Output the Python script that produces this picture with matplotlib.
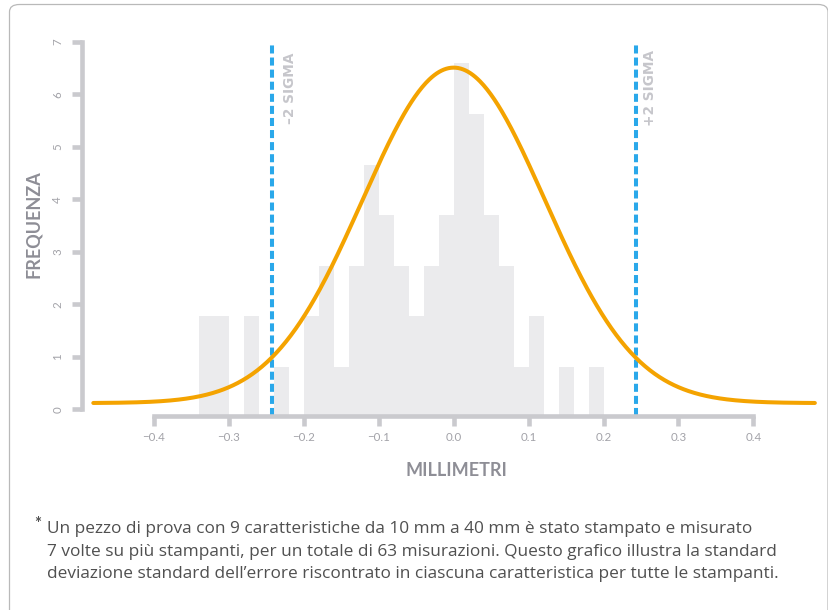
import numpy as np
import matplotlib
matplotlib.use("Agg")
import matplotlib.pyplot as plt
from matplotlib.patches import FancyBboxPatch

# ---------------- data ----------------
bin_start = -0.34
bin_width = 0.02
# frequency of each 0.02 mm bin (as read on the y axis)
bar_heights = [1.78, 1.78, 0, 1.78, 0, 0.81, 0, 1.78, 2.73, 0.81, 2.73, 4.66,
               3.70, 2.73, 1.78, 2.73, 3.70, 6.59, 5.63, 3.70, 2.73, 0.81,
               1.78, 0, 0.81, 0, 0.81]
# fitted normal curve parameters
fit_mean = 0.0
fit_sigma = 0.1215
fit_peak = 6.39
fit_base = 0.12
curve_range = (-0.481, 0.482)
sigma_lines = [-0.243, 0.243]
sigma_labels = ["\u20132 SIGMA", "+2 SIGMA"]
x_ticks = [-0.4, -0.3, -0.2, -0.1, 0.0, 0.1, 0.2, 0.3, 0.4]
x_ticklabels = ["\u22120.4", "\u22120.3", "\u22120.2", "\u22120.1", "0.0", "0.1", "0.2", "0.3", "0.4"]
y_ticks = [0, 1, 2, 3, 4, 5, 6, 7]
x_label = "MILLIMETRI"
y_label = "FREQUENZA"
footnote = ["Un pezzo di prova con 9 caratteristiche da 10 mm a 40 mm è stato stampato e misurato",
            "7 volte su più stampanti, per un totale di 63 misurazioni. Questo grafico illustra la standard",
            "deviazione standard dell\u2019errore riscontrato in ciascuna caratteristica per tutte le stampanti."]

# ---------------- style ----------------
plt.rcParams['font.family'] = ['Lato', 'DejaVu Sans']
W, H = 829, 610
fig = plt.figure(figsize=(W / 100, H / 100), dpi=100)

AX_GREY = "#cacace"
TICK_TXT = "#a2a2a8"
LABEL_GREY = "#8e8e96"
BAR_COL = "#ebebed"
ORANGE = "#f4a300"
BLUE = "#2aa8ea"

# axes placement (pixels)
xlim = (-0.50, 0.49)
ylim = (-0.3, 7.2)
px_per_x = 749.3
x0_px = 453.7
px_per_y = 52.5
y0_px = 409.4  # from top
left = (x0_px + xlim[0] * px_per_x) / W
right = (x0_px + xlim[1] * px_per_x) / W
bottom = (H - (y0_px - ylim[0] * px_per_y)) / H
top = (H - (y0_px - ylim[1] * px_per_y)) / H
ax = fig.add_axes([left, bottom, right - left, top - bottom])
ax.set_xlim(*xlim)
ax.set_ylim(*ylim)
ax.patch.set_alpha(0)

axis_y = -0.126
# bars
edges = [bin_start + i * bin_width for i in range(len(bar_heights))]
for e, h in zip(edges, bar_heights):
    if h > 0:
        ax.bar(e, h - axis_y, width=bin_width, bottom=axis_y, align='edge',
               color=BAR_COL, linewidth=0, zorder=1)

# sigma lines
for sx in sigma_lines:
    ax.plot([sx, sx], [axis_y, 6.94], color=BLUE, lw=2.9, dashes=(2.0, 1.0),
            solid_capstyle='butt', dash_capstyle='butt', zorder=2)

sig_font = dict(rotation=90, ha='center', va='top', fontsize=9.8,
                fontweight='bold', color="#c6c6cb", zorder=4,
                family=['DejaVu Sans'])
ax.text(-0.2191, 6.79, sigma_labels[0], **sig_font)
ax.text(0.2623, 6.84, sigma_labels[1], **sig_font)

# fitted curve
xs = np.linspace(curve_range[0], curve_range[1], 600)
ys = fit_base + fit_peak * np.exp(-((xs - fit_mean) ** 2) / (2 * fit_sigma ** 2))
ax.plot(xs, ys, color=ORANGE, lw=2.9, solid_capstyle='round', zorder=3)

# spines
for s in ['top', 'right']:
    ax.spines[s].set_visible(False)
ax.spines['left'].set_position(('data', -0.496))
ax.spines['left'].set_bounds(0, 7)
ax.spines['bottom'].set_position(('data', axis_y))
ax.spines['bottom'].set_bounds(-0.4, 0.4)
for s in ['left', 'bottom']:
    ax.spines[s].set_color(AX_GREY)
    ax.spines[s].set_linewidth(3.3)
    ax.spines[s].set_capstyle('projecting')
    ax.spines[s].set_zorder(2.5)

ax.set_xticks(x_ticks)
ax.set_xticklabels(x_ticklabels)
ax.set_yticks(y_ticks)
ax.set_yticklabels([str(v) for v in y_ticks], rotation=90, va='center')
ax.tick_params(axis='both', color=AX_GREY, width=3.3, labelcolor=TICK_TXT,
               labelsize=8.3)
ax.tick_params(axis='x', length=7.5, pad=4.0)
ax.tick_params(axis='y', length=7.5, pad=6.0)

# axis titles (figure pixel coords)
fig.text(456 / W, 1 - 470 / H, x_label, ha='center', va='center',
         fontsize=13, fontweight='bold', color=LABEL_GREY)
fig.text(34 / W, 1 - 224 / H, y_label, ha='center', va='center', rotation=90,
         fontsize=13, fontweight='bold', color=LABEL_GREY)

# footnote
fig.text(38 / W, 1 - 524 / H, "*", ha='center', va='center', fontsize=12,
         fontweight='bold', color="#505050")
for i, line in enumerate(footnote):
    fig.text(47.3 / W, 1 - (533.3 + 22.2 * i) / H, line, ha='left',
             va='baseline', fontsize=12.4, color="#505050",
             family=['Open Sans', 'DejaVu Sans'])

# frame
frame = FancyBboxPatch((9.5 / W, -0.1), (828 - 9.5) / W, 1 - 4.5 / H + 0.1,
                       boxstyle="round,pad=0,rounding_size=0.012",
                       transform=fig.transFigure, fill=False,
                       edgecolor="#b9b9b9", linewidth=0.9)
fig.patches.append(frame)

fig.savefig("out.png", dpi=100)
